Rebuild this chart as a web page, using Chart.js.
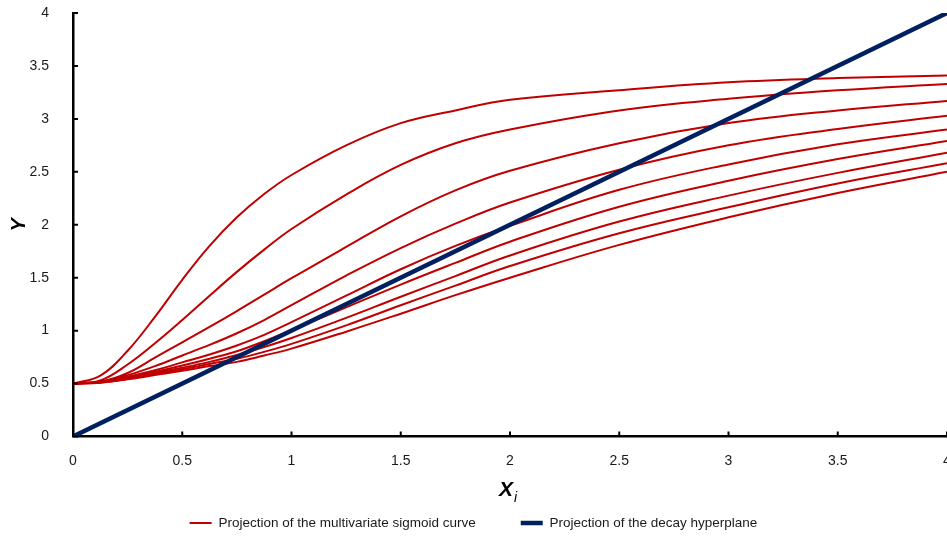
<!DOCTYPE html>
<html>
<head>
<meta charset="utf-8">
<title>Sigmoid curve projections</title>
<script src="https://cdn.jsdelivr.net/npm/chart.js@4"></script>
<style>
  html, body { margin: 0; padding: 0; background: #fff; }
</style>
</head>
<body>
<canvas id="sigmoidChartID" width="947" height="536"></canvas>
<script>
'use strict';

const xValues = [0, 0.125, 0.25, 0.375, 0.5, 0.625, 0.75, 0.875, 1, 1.25, 1.5, 1.75, 2, 2.5, 3, 3.5, 4];

// sigmoid projections, steepest first
const curve1 = [0.5, 0.575, 0.81, 1.13, 1.48, 1.80, 2.07, 2.29, 2.47, 2.75, 2.96, 3.08, 3.18, 3.27, 3.345, 3.385, 3.41];
const curve2 = [0.5, 0.53, 0.68, 0.88, 1.10, 1.33, 1.555, 1.765, 1.96, 2.285, 2.565, 2.77, 2.90, 3.08, 3.19, 3.27, 3.33];
const curve3 = [0.5, 0.515, 0.60, 0.745, 0.89, 1.035, 1.185, 1.34, 1.495, 1.79, 2.08, 2.325, 2.51, 2.77, 2.96, 3.08, 3.17];
const curve4 = [0.5, 0.52, 0.58, 0.665, 0.765, 0.865, 0.975, 1.10, 1.24, 1.52, 1.78, 2.01, 2.21, 2.52, 2.75, 2.905, 3.03];
const curve5 = [0.5, 0.515, 0.565, 0.625, 0.70, 0.775, 0.86, 0.96, 1.08, 1.33, 1.58, 1.80, 1.99, 2.33, 2.57, 2.76, 2.90];
const curve6 = [0.5, 0.515, 0.555, 0.61, 0.67, 0.735, 0.805, 0.90, 1.005, 1.22, 1.435, 1.64, 1.84, 2.17, 2.415, 2.62, 2.79];
const curve7 = [0.5, 0.512, 0.55, 0.60, 0.65, 0.705, 0.77, 0.845, 0.93, 1.12, 1.32, 1.515, 1.71, 2.03, 2.275, 2.49, 2.68];
const curve8 = [0.5, 0.51, 0.545, 0.59, 0.635, 0.685, 0.735, 0.80, 0.875, 1.05, 1.24, 1.425, 1.61, 1.92, 2.165, 2.39, 2.58];
const curve9 = [0.5, 0.508, 0.54, 0.58, 0.62, 0.665, 0.705, 0.765, 0.83, 0.99, 1.16, 1.335, 1.50, 1.81, 2.07, 2.30, 2.50];
const sigmoidCurves = [curve1, curve2, curve3, curve4, curve5, curve6, curve7, curve8, curve9];

// decay hyperplane (straight line)
const hyperX = [0, 4];
const hyperY = [0, 4];

const tickValues = [0, 0.5, 1, 1.5, 2, 2.5, 3, 3.5, 4];

const sigmoidLabel = 'Projection of the multivariate sigmoid curve';
const hyperLabel = 'Projection of the decay hyperplane';

const fontName = '"Liberation Sans", Arial, sans-serif';

const datasets = [];
for (let i = 0; i < sigmoidCurves.length; i++) {
  const pts = [];
  for (let j = 0; j < xValues.length; j++) {
    pts.push({ x: xValues[j], y: sigmoidCurves[i][j] });
  }
  datasets.push({
    label: sigmoidLabel,
    data: pts,
    borderColor: '#C00000',
    backgroundColor: '#C00000',
    borderWidth: 2,
    pointRadius: 0,
    tension: 0.4,
    order: 2
  });
}
const hyperPts = [];
for (let j = 0; j < hyperX.length; j++) {
  hyperPts.push({ x: hyperX[j], y: hyperY[j] });
}
datasets.push({
  label: hyperLabel,
  data: hyperPts,
  borderColor: '#002060',
  backgroundColor: '#002060',
  borderWidth: 4.5,
  pointRadius: 0,
  order: 1
});

// small tick marks inside the plot + the X_i axis title
const innerTicks = {
  id: 'innerTicks',
  afterDraw(chart) {
    const ctx = chart.ctx;
    const area = chart.chartArea;
    const xs = chart.scales.x;
    const ys = chart.scales.y;
    ctx.save();
    ctx.strokeStyle = '#000';
    ctx.lineWidth = 2;
    ctx.beginPath();
    xs.ticks.forEach(t => {
      const px = xs.getPixelForValue(t.value);
      ctx.moveTo(px, area.bottom);
      ctx.lineTo(px, area.bottom - 5);
    });
    ys.ticks.forEach(t => {
      const py = ys.getPixelForValue(t.value);
      ctx.moveTo(area.left, py);
      ctx.lineTo(area.left + 5, py);
    });
    ctx.stroke();

    const cx = (area.left + area.right) / 2 - 4;
    ctx.fillStyle = '#000';
    ctx.textBaseline = 'middle';
    ctx.textAlign = 'center';
    ctx.font = 'italic bold 21px ' + fontName;
    ctx.fillText('X', cx, 490);
    const w = ctx.measureText('X').width;
    ctx.textAlign = 'left';
    ctx.font = 'italic 14px ' + fontName;
    ctx.fillText('i', cx + w / 2 + 1, 498);
    ctx.restore();
  }
};

const config = {
  type: 'line',
  data: { datasets: datasets },
  plugins: [innerTicks],
  options: {
    responsive: false,
    animation: false,
    events: [],
    layout: { padding: { top: 13, right: 0, bottom: 0, left: 0 } },
    scales: {
      x: {
        type: 'linear',
        min: 0,
        max: 4,
        afterBuildTicks: s => { s.ticks = tickValues.map(v => ({ value: v })); },
        afterFit: s => { s.height = 34.75; s.paddingRight = 0; s.paddingLeft = 0; },
        grid: { display: false },
        border: { color: '#000', width: 2.5 },
        ticks: {
          padding: 8,
          maxRotation: 0,
          autoSkip: false,
          color: '#1a1a1a',
          font: { family: fontName, size: 14 },
          callback: v => String(v)
        },
        title: { display: false }
      },
      y: {
        type: 'linear',
        min: 0,
        max: 4,
        afterBuildTicks: s => { s.ticks = tickValues.map(v => ({ value: v })); },
        afterFit: s => { s.width = 73; s.paddingTop = 0; s.paddingBottom = 0; },
        grid: { display: false },
        border: { color: '#000', width: 2.5 },
        ticks: {
          padding: 16,
          color: '#1a1a1a',
          font: { family: fontName, size: 14 },
          callback: v => String(v)
        },
        title: {
          display: true,
          text: 'Y',
          color: '#000',
          padding: { top: 7, bottom: 0 },
          font: { family: fontName, size: 20, style: 'italic', weight: 'bold' }
        }
      }
    },
    plugins: {
      tooltip: { enabled: false },
      legend: {
        position: 'bottom',
        maxHeight: 64.75,
        labels: {
          usePointStyle: true,
          pointStyle: 'line',
          pointStyleWidth: 22,
          padding: 45,
          color: '#1a1a1a',
          font: { family: fontName, size: 13.5 },
          filter: item => item.datasetIndex === 0 || item.datasetIndex === datasets.length - 1,
          sort: (a, b) => a.datasetIndex - b.datasetIndex
        }
      }
    }
  }
};

const sigmoidChart = new Chart(document.getElementById('sigmoidChartID'), config);
</script>
</body>
</html>
